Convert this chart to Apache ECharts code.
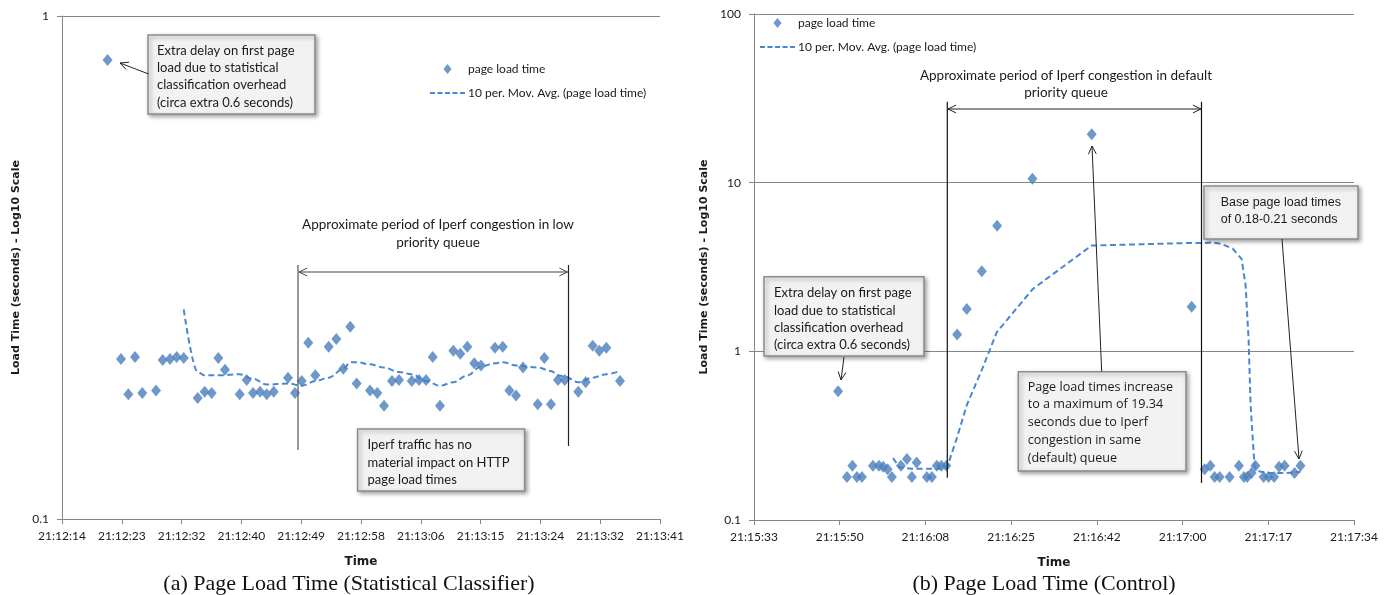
<!DOCTYPE html>
<html>
<head>
<meta charset="utf-8">
<script src="https://cdn.jsdelivr.net/npm/echarts@6/dist/echarts.min.js"></script>
<style>
html,body{margin:0;padding:0;background:#fff;}
#c{width:1394px;height:595px;}
</style>
</head>
<body>
<div id="c"></div>
<script>
// ---------- DATA ----------
// (a) Statistical classifier: seconds after 21:12:14.5 and load time (s)
const leftTicks = ['21:12:14','21:12:23','21:12:32','21:12:40','21:12:49','21:12:58','21:13:06','21:13:15','21:13:24','21:13:32','21:13:41'];
const leftTime = [6.63,8.58,9.65,10.62,11.68,13.68,14.65,15.71,16.69,17.71,19.74,20.76,21.78,22.74,23.71,25.85,26.87,27.79,28.81,29.78,30.80,32.88,33.90,34.87,35.83,36.85,38.80,39.91,40.93,41.94,42.87,44.81,45.87,46.85,48.01,49.03,50.88,51.94,52.96,53.93,54.99,56.93,57.95,58.97,59.98,60.96,62.99,64.12,65.08,66.05,67.07,69.21,70.17,71.14,72.16,73.14,75.11,76.19,77.21,78.17,79.19,81.18];
const leftLoad = [0.818,0.208,0.177,0.210,0.178,0.180,0.207,0.208,0.210,0.209,0.174,0.179,0.178,0.209,0.198,0.177,0.189,0.178,0.179,0.177,0.179,0.191,0.178,0.188,0.224,0.193,0.220,0.228,0.199,0.241,0.186,0.180,0.178,0.168,0.188,0.189,0.188,0.189,0.189,0.210,0.168,0.216,0.213,0.220,0.204,0.202,0.219,0.220,0.180,0.176,0.200,0.169,0.209,0.169,0.189,0.189,0.179,0.187,0.221,0.216,0.219,0.188];
const leftAvgTime = [17.71,19.74,20.76,22.74,25.85,27.79,29.78,32.88,34.87,36.85,38.80,40.93,41.94,42.87,44.81,46.85,49.03,50.88,52.96,54.99,56.93,58.97,60.96,62.99,64.12,66.05,69.21,71.14,72.16,73.14,75.11,77.21,79.19,81.18];
const leftAvg = [0.261,0.196,0.193,0.193,0.194,0.190,0.185,0.186,0.184,0.188,0.191,0.199,0.205,0.205,0.203,0.200,0.196,0.194,0.188,0.184,0.187,0.193,0.201,0.204,0.205,0.202,0.200,0.197,0.193,0.192,0.187,0.191,0.194,0.197];

// (b) Control: seconds after 21:15:33 and load time (s)
const rightTicks = ['21:15:33','21:15:50','21:16:08','21:16:25','21:16:42','21:17:00','21:17:17','21:17:34'];
const rightTime = [16.98,18.76,19.86,20.77,21.78,24.0,25.21,26.08,26.96,27.83,29.65,30.86,31.86,32.83,34.89,35.9,36.9,37.81,38.82,41.0,42.95,45.98,49.07,56.2,68.16,88.33,90.95,92.1,92.97,93.98,95.99,97.87,98.88,99.55,100.42,101.2,102.85,103.86,104.97,105.98,107.09,109.1,110.3];
const rightLoad = [0.58,0.18,0.21,0.18,0.18,0.21,0.21,0.207,0.20,0.18,0.21,0.23,0.18,0.219,0.18,0.18,0.21,0.21,0.21,1.26,1.78,2.98,5.56,10.56,19.34,1.84,0.20,0.21,0.18,0.18,0.18,0.21,0.18,0.18,0.19,0.21,0.18,0.18,0.18,0.207,0.21,0.19,0.21];
const rightAvgTime = [28.03,29.44,31.86,35.09,37.81,38.92,40.94,42.96,45.98,49.01,56.26,68.16,88.33,90.95,92.57,94.38,96.6,98.41,99.22,99.83,100.23,101.04,102.05,104.06,107.29,110.31];
const rightAvg = [0.233,0.205,0.201,0.201,0.201,0.203,0.306,0.481,0.775,1.30,2.34,4.24,4.39,4.39,4.42,4.33,4.07,3.53,2.47,1.17,0.481,0.206,0.194,0.190,0.190,0.193];

const seriesNames = ['page load time','10 per. Mov. Avg. (page load time)'];

// ---------- STYLE HELPERS ----------
const BLUE = '#4A7EBB';
const DASH = '#4A87D3';
const AX = '#868686';
const TXT = '#1a1a1a';
const FONT = 'Lato';

function zip(a,b){ return a.map((v,i)=>[v,b[i]]); }

function xAxisCfg(grid, max, interval, ticks){
  return {
    gridIndex: grid, type:'value', min:0, max:max, interval:interval,
    axisLine:{show:true, lineStyle:{color:AX, width:1}},
    axisTick:{show:true, length:5, lineStyle:{color:AX}},
    splitLine:{show:false},
    axisLabel:{margin:11, fontFamily:FONT, fontSize:12, color:TXT,
      formatter:(v)=>ticks[Math.round(v/interval)] || ''},
    name:'Time', nameLocation:'middle', nameGap:37,
    nameTextStyle:{fontFamily:'DejaVu Sans', fontWeight:'bold', fontSize:12, color:TXT}
  };
}
function yAxisCfg(grid, min, max, gap){
  return {
    gridIndex: grid, type:'log', logBase:10, min:min, max:max,
    axisLine:{show:true, lineStyle:{color:AX, width:1}},
    axisTick:{show:true, length:5, lineStyle:{color:AX}},
    splitLine:{show:true, lineStyle:{color:AX, width:1}},
    minorTick:{show:false},
    axisLabel:{margin:13, fontFamily:FONT, fontSize:12, color:TXT,
      formatter:(v)=>String(+v.toPrecision(3))},
    name:'Load Time (seconds) - Log10 Scale', nameLocation:'middle', nameGap:gap,
    nameTextStyle:{fontFamily:'DejaVu Sans', fontWeight:'bold', fontSize:11, color:TXT}
  };
}

// ---------- ANNOTATIONS (graphic) ----------
const G = [];
function line(x1,y1,x2,y2,color,w){
  G.push({type:'line', silent:true, shape:{x1,y1,x2,y2}, style:{stroke:color||'#111', lineWidth:w||1}, z:50});
}
function head(x1,y1,x2,y2,color){
  const a = Math.atan2(y2-y1, x2-x1), L = 9, s = 0.45;
  G.push({type:'polyline', silent:true, shape:{points:[
    [x2 - L*Math.cos(a-s), y2 - L*Math.sin(a-s)], [x2,y2],
    [x2 - L*Math.cos(a+s), y2 - L*Math.sin(a+s)]]},
    style:{stroke:color||'#111', lineWidth:1, fill:null}, z:50});
}
function arrow(x1,y1,x2,y2,color){ line(x1,y1,x2,y2,color); head(x1,y1,x2,y2,color); }
function text(str,x,y,font,align){
  G.push({type:'text', silent:true, x:x, y:y, z:60,
    style:{text:str, font:font, fill:TXT, textAlign:align||'left', textVerticalAlign:'middle'}});
}
function box(x,y,w,h,lines,tx,ty0,lh,font){
  G.push({type:'rect', silent:true, z:40, shape:{x,y,width:w,height:h},
    style:{fill:'#f2f2f2', stroke:'#8c8c8c', lineWidth:1.5,
      shadowBlur:4, shadowOffsetX:2, shadowOffsetY:2, shadowColor:'rgba(0,0,0,0.35)'}});
  lines.forEach((s,i)=>text(s, tx, ty0 + i*lh, font));
}

const boxFont = '13px Lato';
const periodFont = '13.5px Lato';
// Left chart
box(148,35,167,79,['Extra delay on first page','load due to statistical','classification overhead','(circa extra 0.6 seconds)'],157,50.5,17.3,boxFont);
arrow(148.7,74,120,63,'#222');
text('Approximate period of Iperf congestion in low',438,225,periodFont,'center');
text('priority queue',438,242.5,periodFont,'center');
line(298,265,298,450,'#555',1.2);
line(568.5,265,568.5,446,'#222',1.2);
line(299,272,567.5,272,'#444',1.2);
head(567,272,299,272,'#444'); head(299,272,567.5,272,'#444');
box(357.6,429,167,62,['Iperf traffic has no','material impact on HTTP','page load times'],367.5,445,17.5,boxFont);

// Right chart
text('Approximate period of Iperf congestion in default',1066,75.5,periodFont,'center');
text('priority queue',1066,93,periodFont,'center');
line(947.3,101.7,947.3,477.7,'#111',1.2);
line(1201.5,101.7,1201.5,483,'#111',1.2);
line(948,109,1201,109,'#222',1.2);
head(1200,109,948,109,'#222'); head(948,109,1201,109,'#222');
box(764,276.7,160,79.3,['Extra delay on first page','load due to statistical','classification overhead','(circa extra 0.6 seconds)'],774,293,17.4,boxFont);
arrow(844,357,841,380,'#222');
box(1018.3,371.7,167.7,99.3,['Page load times increase','to a maximum of 19.34','seconds due to Iperf','congestion in same','(default) queue'],1027.7,387,17.75,'12.6px "Open Sans"');
arrow(1101.7,371.7,1092,146,'#222');
box(1204,186,154,53,['Base page load times','of 0.18-0.21 seconds'],1220.7,203,16.5,'12.5px "Liberation Sans"');
arrow(1282,239,1299,459,'#222');

// Captions
G.push({type:'text', silent:true, x:349, y:584, style:{text:'(a) Page Load Time (Statistical Classifier)', font:'22px "Liberation Serif"', fill:'#111', textAlign:'center', textVerticalAlign:'middle'}});
G.push({type:'text', silent:true, x:1044, y:584, style:{text:'(b) Page Load Time (Control)', font:'22px "Liberation Serif"', fill:'#111', textAlign:'center', textVerticalAlign:'middle'}});

// ---------- CHART ----------
const chart = echarts.init(document.getElementById('c'), null, {renderer:'canvas'});
const diamondIcon = 'path://M4.5,0L9,5.5L4.5,11L0,5.5Z';
const dashIcon = 'path://M0,0h5v2h-5zM7.5,0h5v2h-5zM15,0h5v2h-5zM22.5,0h5v2h-5zM30,0h5v2h-5z';
const legendCfg = (left, top) => ({
  orient:'vertical', left:left, top:top, padding:0, itemWidth:35, itemHeight:10, itemGap:12,
  selectedMode:false, symbolKeepAspect:true,
  textStyle:{fontFamily:FONT, fontSize:12, color:TXT, padding:[0,0,0,-2]},
  data:[{name:seriesNames[0], icon:diamondIcon, itemStyle:{color:BLUE}},
        {name:seriesNames[1], icon:dashIcon, itemStyle:{color:DASH}}]
});

chart.setOption({
  animation:false,
  backgroundColor:'#fff',
  grid:[
    {left:62, top:16, width:598, height:503},
    {left:754, top:14, width:600, height:506}
  ],
  legend:[legendCfg(430,63), legendCfg(760,17)],
  xAxis:[xAxisCfg(0,87,8.7,leftTicks), xAxisCfg(1,121.1,17.3,rightTicks)],
  yAxis:[yAxisCfg(0,0.1,1,40), yAxisCfg(1,0.1,100,44)],
  series:[
    {name:seriesNames[0], type:'scatter', xAxisIndex:0, yAxisIndex:0, symbol:'diamond', symbolSize:[10,12],
      itemStyle:{color:BLUE}, data:zip(leftTime,leftLoad), z:5},
    {name:seriesNames[1], type:'line', xAxisIndex:0, yAxisIndex:0, showSymbol:false, symbol:'none',
      smooth:0.35, smoothMonotone:'x',
      lineStyle:{color:DASH, width:2, type:[6,3.5]}, itemStyle:{color:DASH}, data:zip(leftAvgTime,leftAvg), z:4},
    {name:seriesNames[0], type:'scatter', xAxisIndex:1, yAxisIndex:1, symbol:'diamond', symbolSize:[10,12],
      itemStyle:{color:BLUE}, data:zip(rightTime,rightLoad), z:5},
    {name:seriesNames[1], type:'line', xAxisIndex:1, yAxisIndex:1, showSymbol:false, symbol:'none',
      smooth:false,
      lineStyle:{color:DASH, width:2, type:[6,3.5]}, itemStyle:{color:DASH}, data:zip(rightAvgTime,rightAvg), z:4}
  ],
  graphic: G
});
</script>
</body>
</html>
